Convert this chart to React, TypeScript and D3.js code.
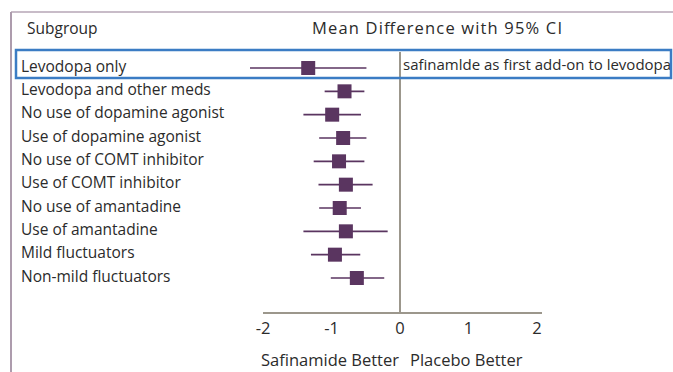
import React from "react";
import * as d3 from "d3";

// Subgroup analysis: mean difference with 95% CI
const subgroups = [
  "Levodopa only",
  "Levodopa and other meds",
  "No use of dopamine agonist",
  "Use of dopamine agonist",
  "No use of COMT inhibitor",
  "Use of COMT inhibitor",
  "No use of amantadine",
  "Use of amantadine",
  "Mild fluctuators",
  "Non-mild fluctuators",
];
const means = [-1.34, -0.81, -0.99, -0.83, -0.89, -0.79, -0.88, -0.79, -0.95, -0.63];
const lower = [-2.19, -1.1, -1.41, -1.18, -1.26, -1.19, -1.18, -1.41, -1.3, -1.01];
const upper = [-0.49, -0.52, -0.57, -0.49, -0.52, -0.4, -0.57, -0.18, -0.58, -0.23];
const ticks = [-2, -1, 0, 1, 2];
const highlightNote = "safinamlde as first add-on to levodopa";

const W = 673;
const H = 372;
const FONT = "'Open Sans', 'Noto Sans', sans-serif";
const TEXT = "#2b2b2b";
const MARK = "#5a3560";
const AXIS = "#9c978c";

export default function App() {
  const x = d3.scaleLinear().domain([-2, 2]).range([263, 537]);
  const y = d3.scaleLinear().domain([0, subgroups.length - 1]).range([68, 278]);
  const axisY = 313;
  const box = 14;

  return (
    <svg
      width={W}
      height={H}
      style={{ position: "absolute", left: 0, top: 0, background: "#fff" }}
      fontFamily={FONT}
    >
      {/* frame */}
      <line x1={11} x2={W} y1={12} y2={12} stroke="#b6a6b6" strokeWidth={1.5} />
      <line x1={11} x2={11} y1={12} y2={H} stroke="#ad9cad" strokeWidth={2} />

      {/* headers */}
      <text x={27} y={34} fontSize={15.5} fill={TEXT}>Subgroup</text>
      <text
        x={312}
        y={34}
        fontSize={16.5}
        fill={TEXT}
        textLength={250}
        lengthAdjust="spacing"
      >
        Mean Difference with 95% CI
      </text>

      {/* zero line */}
      <line x1={x(0)} x2={x(0)} y1={52} y2={axisY} stroke={AXIS} strokeWidth={2} />

      {/* x axis */}
      <line x1={x(-2)} x2={x(2) + 5} y1={axisY} y2={axisY} stroke={AXIS} strokeWidth={2} />
      {ticks.map((t) => (
        <text key={t} x={x(t)} y={334} fontSize={16.5} fill={TEXT} textAnchor="middle">
          {t < 0 ? `-${Math.abs(t)}` : t}
        </text>
      ))}
      <text x={x(0) - 1} y={366} fontSize={16.5} fill={TEXT} textAnchor="end">Safinamide Better</text>
      <text x={x(0) + 10} y={366} fontSize={16.5} fill={TEXT}>Placebo Better</text>

      {/* rows */}
      {subgroups.map((s, i) => (
        <g key={s}>
          <text x={21} y={y(i) + 3.5} fontSize={15.5} fill={TEXT}>{s}</text>
          <line
            x1={x(lower[i])}
            x2={x(upper[i])}
            y1={y(i)}
            y2={y(i)}
            stroke={MARK}
            strokeWidth={1.6}
          />
          <rect x={x(means[i]) - box / 2} y={y(i) - box / 2} width={box} height={box} fill={MARK} />
        </g>
      ))}

      {/* highlighted subgroup */}
      <text x={x(0) + 3} y={y(0) + 2} fontSize={15} fill={TEXT}>{highlightNote}</text>
      <rect x={16} y={50} width={655} height={28} fill="none" stroke="#3b7cc4" strokeWidth={2.5} />
    </svg>
  );
}
